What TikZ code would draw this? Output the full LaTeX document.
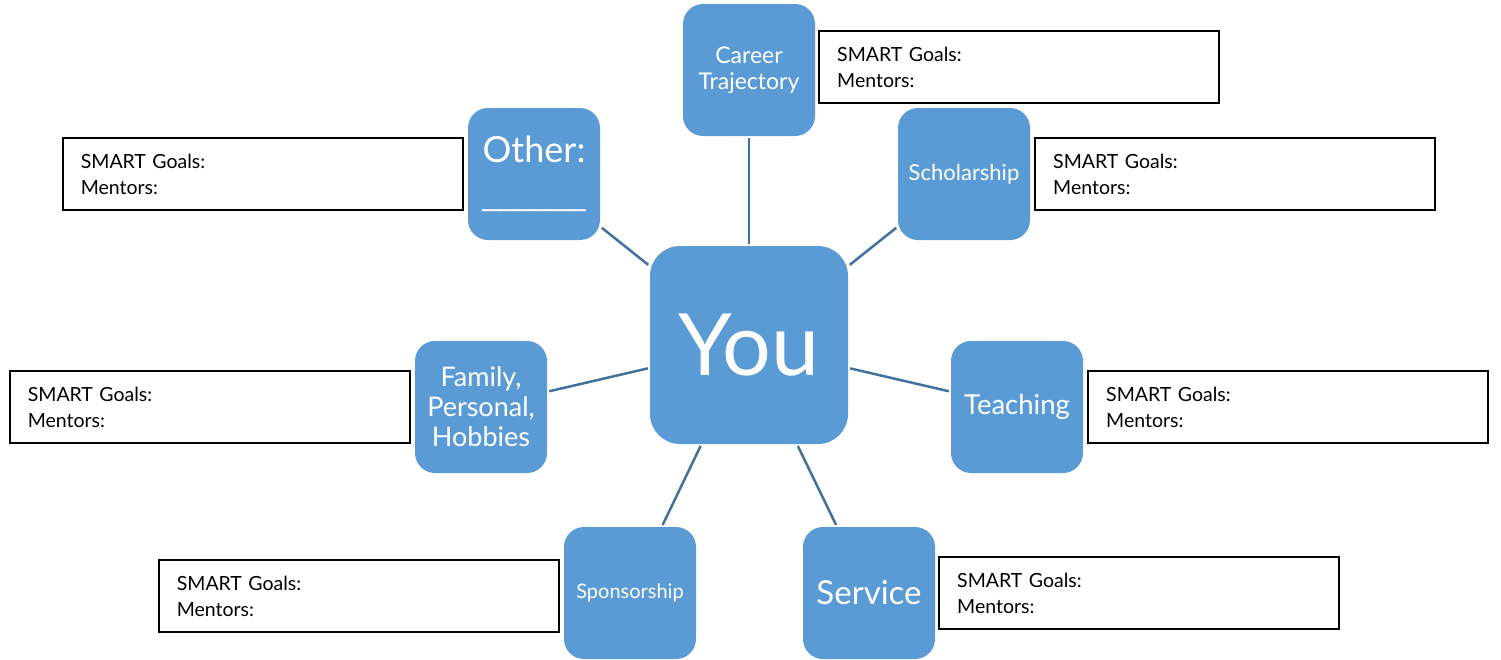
\documentclass[tikz,border=0pt]{standalone}
\usepackage{fontspec}
\setmainfont{Lato}
\newfontfamily\blankfont{Liberation Sans}
\usetikzlibrary{positioning}
\definecolor{areablue}{RGB}{91,155,213}
\definecolor{linkblue}{RGB}{65,113,156}
\begin{document}
\begin{tikzpicture}[x=1pt,y=-1pt,
    area/.style={rectangle,rounded corners=20pt,fill=areablue,text=white,align=center,minimum size=132pt,inner sep=2pt},
    goalbox/.style={rectangle,draw=black,line width=2pt,minimum width=400pt,minimum height=72pt,text width=364pt,inner xsep=18pt,align=left,font=\fontsize{19.5}{26}\selectfont},
    link/.style={draw=linkblue,line width=2.5pt,shorten <=2pt,shorten >=2pt}]
  \useasboundingbox (0,0) rectangle (1501,659);
  \node[area,minimum size=198pt,rounded corners=30pt,font=\fontsize{86}{90}\selectfont] (you) at (749,345) {You};
  \node[area,font=\fontsize{23}{26}\selectfont] (career) at (749,70) {Career\\Trajectory};
  \node[area,font=\fontsize{22}{25}\selectfont] (scholar) at (964,174) {Scholarship};
  \node[area,font=\fontsize{27.5}{32}\selectfont] (teach) at (1017,407) {Teaching};
  \node[area,font=\fontsize{33}{38}\selectfont] (service) at (869,593) {Service};
  \node[area,font=\fontsize{20}{23}\selectfont] (sponsor) at (630,593) {Sponsorship};
  \node[area,font=\fontsize{27}{30}\selectfont] (family) at (481,407) {Family,\\Personal,\\Hobbies};
  \node[area,font=\fontsize{36}{43}\selectfont] (other) at (534,174) {Other:\\{\blankfont\fontsize{31}{43}\selectfont\_\_\_\_\_\_}};

  \node[goalbox,right=3pt of career,yshift=3pt] (careergoals) {SMART Goals:\\Mentors:};
  \node[goalbox,right=4pt of scholar] (scholargoals) {SMART Goals:\\Mentors:};
  \node[goalbox,right=4pt of teach] (teachgoals) {SMART Goals:\\Mentors:};
  \node[goalbox,right=3pt of service] (servicegoals) {SMART Goals:\\Mentors:};
  \node[goalbox,left=4pt of sponsor,yshift=-3pt] (sponsorgoals) {SMART Goals:\\Mentors:};
  \node[goalbox,left=4pt of family] (familygoals) {SMART Goals:\\Mentors:};
  \node[goalbox,left=4pt of other] (othergoals) {SMART Goals:\\Mentors:};

  \draw[link] (you) -- (career); \draw[link] (you) -- (scholar);
  \draw[link] (you) -- (teach); \draw[link] (you) -- (service);
  \draw[link] (you) -- (sponsor); \draw[link] (you) -- (family);
  \draw[link] (you) -- (other);
\end{tikzpicture}
\end{document}
